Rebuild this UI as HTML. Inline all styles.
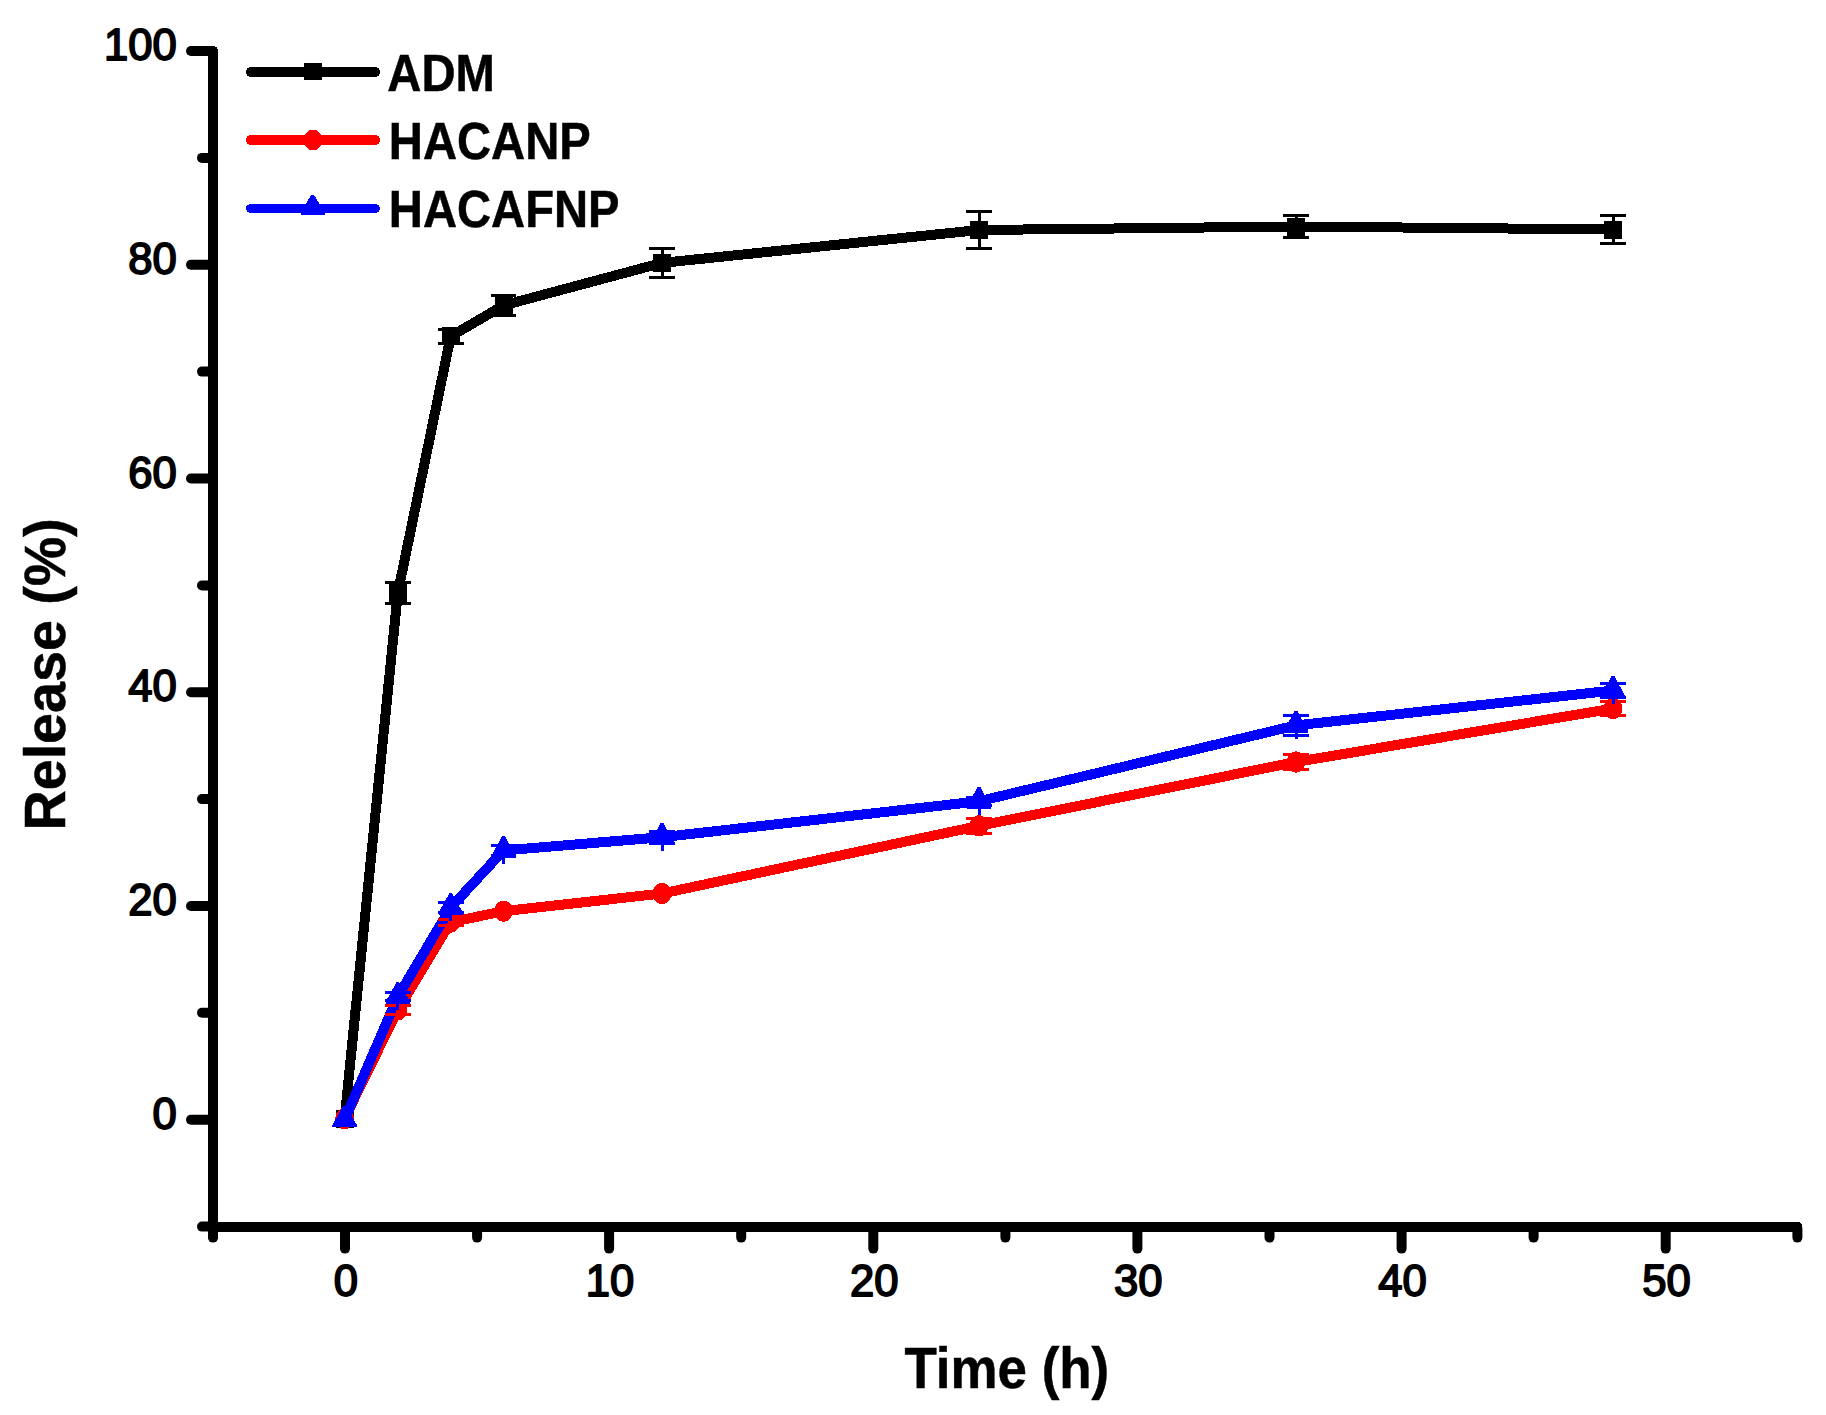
<!DOCTYPE html>
<html lang="en">
<head>
<meta charset="utf-8">
<title>Release (%) vs Time (h)</title>
<style>
html,body{margin:0;padding:0;background:#fff;}
body{width:1826px;height:1415px;overflow:hidden;}
svg{display:block;}
text{font-family:"Liberation Sans",Arial,Helvetica,sans-serif;fill:#000;}
.tick{font-size:43.6px;stroke:#000;stroke-width:1.8px;stroke-linejoin:round;}
.ttl{font-size:57.3px;font-weight:bold;stroke:#000;stroke-width:0.5px;}
.leg{font-size:51.6px;font-weight:bold;stroke:#000;stroke-width:0.5px;}
</style>
</head>
<body>
<svg width="1826" height="1415" viewBox="0 0 1826 1415">
<rect x="0" y="0" width="1826" height="1415" fill="#ffffff"/>

<g id="axes" stroke="#000" stroke-width="10" stroke-linecap="round" fill="none" shape-rendering="crispEdges">
<line x1="213.0" y1="51" x2="213.0" y2="1237.1"/>
<line x1="213.0" y1="1226.6" x2="1797.4" y2="1226.6"/>
</g>
<g id="ticks" stroke="#000" stroke-width="10" stroke-linecap="round" fill="none">
<line x1="211.0" y1="1226.6" x2="202.0" y2="1226.6"/>
<line x1="211.0" y1="1119.7" x2="191.0" y2="1119.7"/>
<line x1="211.0" y1="1012.8" x2="202.0" y2="1012.8"/>
<line x1="211.0" y1="906.0" x2="191.0" y2="906.0"/>
<line x1="211.0" y1="799.1" x2="202.0" y2="799.1"/>
<line x1="211.0" y1="692.2" x2="191.0" y2="692.2"/>
<line x1="211.0" y1="585.4" x2="202.0" y2="585.4"/>
<line x1="211.0" y1="478.5" x2="191.0" y2="478.5"/>
<line x1="211.0" y1="371.6" x2="202.0" y2="371.6"/>
<line x1="211.0" y1="264.7" x2="191.0" y2="264.7"/>
<line x1="211.0" y1="157.9" x2="202.0" y2="157.9"/>
<line x1="211.0" y1="51.0" x2="191.0" y2="51.0"/>
<line x1="213.0" y1="1228.6" x2="213.0" y2="1237.6"/>
<line x1="345.0" y1="1228.6" x2="345.0" y2="1248.6"/>
<line x1="477.1" y1="1228.6" x2="477.1" y2="1237.6"/>
<line x1="609.1" y1="1228.6" x2="609.1" y2="1248.6"/>
<line x1="741.2" y1="1228.6" x2="741.2" y2="1237.6"/>
<line x1="873.3" y1="1228.6" x2="873.3" y2="1248.6"/>
<line x1="1005.4" y1="1228.6" x2="1005.4" y2="1237.6"/>
<line x1="1137.4" y1="1228.6" x2="1137.4" y2="1248.6"/>
<line x1="1269.5" y1="1228.6" x2="1269.5" y2="1237.6"/>
<line x1="1401.6" y1="1228.6" x2="1401.6" y2="1248.6"/>
<line x1="1533.6" y1="1228.6" x2="1533.6" y2="1237.6"/>
<line x1="1665.7" y1="1228.6" x2="1665.7" y2="1248.6"/>
<line x1="1797.4" y1="1228.6" x2="1797.4" y2="1237.6"/>
</g>
<g id="ylabels" class="tick" text-anchor="end">
<text transform="translate(176.7,1128.9)">0</text>
<text transform="translate(176.7,915.2)">20</text>
<text transform="translate(176.7,701.4)">40</text>
<text transform="translate(176.7,487.7)">60</text>
<text transform="translate(176.7,273.9)">80</text>
<text transform="translate(176.7,60.2)">100</text>
</g>
<g id="xlabels" class="tick" text-anchor="middle">
<text transform="translate(345.9,1296.1)">0</text>
<text transform="translate(610.0,1296.1)">10</text>
<text transform="translate(874.2,1296.1)">20</text>
<text transform="translate(1138.3,1296.1)">30</text>
<text transform="translate(1402.5,1296.1)">40</text>
<text transform="translate(1666.6,1296.1)">50</text>
</g>
<text class="ttl" text-anchor="middle" transform="translate(1006.8,1388) scale(0.9235,1)">Time (h)</text>
<text class="ttl" text-anchor="middle" transform="translate(65,674.3) rotate(-90) scale(0.971,1)">Release (%)</text>
<g id="s-adm" shape-rendering="crispEdges">
<polyline points="344.6,1118.7 397.8,593.0 450.7,336.4 503.5,305.4 662.0,262.9 979.0,230.0 1296.0,226.5 1613.0,229.5" fill="none" stroke="#000" stroke-width="10" stroke-linejoin="round" stroke-linecap="round"/>
<rect x="335.6" y="1109.7" width="18" height="18" fill="#000"/>
<rect x="388.8" y="584.0" width="18" height="18" fill="#000"/>
<rect x="441.7" y="327.4" width="18" height="18" fill="#000"/>
<rect x="494.5" y="296.4" width="18" height="18" fill="#000"/>
<rect x="653.0" y="253.9" width="18" height="18" fill="#000"/>
<rect x="970.0" y="221.0" width="18" height="18" fill="#000"/>
<rect x="1287.0" y="217.5" width="18" height="18" fill="#000"/>
<rect x="1604.0" y="220.5" width="18" height="18" fill="#000"/>
</g>
<g id="s-hacanp" shape-rendering="crispEdges">
<polyline points="344.6,1118.6 397.8,1009.9 450.7,922.2 503.5,911.2 662.0,893.5 979.0,825.9 1296.0,762.0 1613.0,708.5" fill="none" stroke="#f00" stroke-width="10" stroke-linejoin="round" stroke-linecap="round"/>
<ellipse cx="344.6" cy="1118.6" rx="9.4" ry="10.7" fill="#f00"/>
<ellipse cx="397.8" cy="1009.9" rx="9.4" ry="10.7" fill="#f00"/>
<ellipse cx="450.7" cy="922.2" rx="9.4" ry="10.7" fill="#f00"/>
<ellipse cx="503.5" cy="911.2" rx="9.4" ry="10.7" fill="#f00"/>
<ellipse cx="662.0" cy="893.5" rx="9.4" ry="10.7" fill="#f00"/>
<ellipse cx="979.0" cy="825.9" rx="9.4" ry="10.7" fill="#f00"/>
<ellipse cx="1296.0" cy="762.0" rx="9.4" ry="10.7" fill="#f00"/>
<ellipse cx="1613.0" cy="708.5" rx="9.4" ry="10.7" fill="#f00"/>
</g>
<g id="s-hacafnp" shape-rendering="crispEdges">
<polyline points="344.6,1119.7 397.8,996.6 450.7,907.5 503.5,850.5 662.0,837.2 979.0,801.3 1296.0,725.4 1613.0,690.5" fill="none" stroke="#00f" stroke-width="10" stroke-linejoin="round" stroke-linecap="round"/>
<polygon points="343.2,1105.5 346.0,1105.5 356.8,1125.0 356.8,1127.0 332.4,1127.0 332.4,1125.0" fill="#00f"/>
<polygon points="396.4,982.4 399.2,982.4 410.0,1001.9 410.0,1003.9 385.6,1003.9 385.6,1001.9" fill="#00f"/>
<polygon points="449.3,893.3 452.1,893.3 462.9,912.8 462.9,914.8 438.5,914.8 438.5,912.8" fill="#00f"/>
<polygon points="502.1,836.3 504.9,836.3 515.7,855.8 515.7,857.8 491.3,857.8 491.3,855.8" fill="#00f"/>
<polygon points="660.6,823.0 663.4,823.0 674.2,842.5 674.2,844.5 649.8,844.5 649.8,842.5" fill="#00f"/>
<polygon points="977.6,787.1 980.4,787.1 991.2,806.6 991.2,808.6 966.8,808.6 966.8,806.6" fill="#00f"/>
<polygon points="1294.6,711.2 1297.4,711.2 1308.2,730.7 1308.2,732.7 1283.8,732.7 1283.8,730.7" fill="#00f"/>
<polygon points="1611.6,676.3 1614.4,676.3 1625.2,695.8 1625.2,697.8 1600.8,697.8 1600.8,695.8" fill="#00f"/>
</g>
<g stroke="#000" stroke-width="3" fill="none" shape-rendering="crispEdges">
<line x1="397.8" y1="582.2" x2="397.8" y2="603.8"/>
<line x1="385.2" y1="582.2" x2="410.6" y2="582.2"/>
<line x1="385.2" y1="603.8" x2="410.6" y2="603.8"/>
<line x1="450.7" y1="329.1" x2="450.7" y2="343.6"/>
<line x1="438.1" y1="329.1" x2="463.5" y2="329.1"/>
<line x1="438.1" y1="343.6" x2="463.5" y2="343.6"/>
<line x1="503.5" y1="295.8" x2="503.5" y2="315.0"/>
<line x1="490.9" y1="295.8" x2="516.3" y2="295.8"/>
<line x1="490.9" y1="315.0" x2="516.3" y2="315.0"/>
<line x1="662.0" y1="248.5" x2="662.0" y2="277.2"/>
<line x1="649.4" y1="248.5" x2="674.8" y2="248.5"/>
<line x1="649.4" y1="277.2" x2="674.8" y2="277.2"/>
<line x1="979.0" y1="211.5" x2="979.0" y2="248.5"/>
<line x1="966.4" y1="211.5" x2="991.8" y2="211.5"/>
<line x1="966.4" y1="248.5" x2="991.8" y2="248.5"/>
<line x1="1296.0" y1="215.3" x2="1296.0" y2="237.7"/>
<line x1="1283.4" y1="215.3" x2="1308.8" y2="215.3"/>
<line x1="1283.4" y1="237.7" x2="1308.8" y2="237.7"/>
<line x1="1613.0" y1="215.3" x2="1613.0" y2="243.7"/>
<line x1="1600.4" y1="215.3" x2="1625.8" y2="215.3"/>
<line x1="1600.4" y1="243.7" x2="1625.8" y2="243.7"/>
</g>
<g stroke="#f00" stroke-width="3" fill="none" shape-rendering="crispEdges">
<line x1="397.8" y1="1005.5" x2="397.8" y2="1014.2"/>
<line x1="385.2" y1="1005.5" x2="410.6" y2="1005.5"/>
<line x1="385.2" y1="1014.2" x2="410.6" y2="1014.2"/>
<line x1="450.7" y1="919.1" x2="450.7" y2="925.3"/>
<line x1="438.1" y1="919.1" x2="463.5" y2="919.1"/>
<line x1="438.1" y1="925.3" x2="463.5" y2="925.3"/>
<line x1="979.0" y1="818.6" x2="979.0" y2="833.2"/>
<line x1="966.4" y1="818.6" x2="991.8" y2="818.6"/>
<line x1="966.4" y1="833.2" x2="991.8" y2="833.2"/>
<line x1="1296.0" y1="754.5" x2="1296.0" y2="769.5"/>
<line x1="1283.4" y1="754.5" x2="1308.8" y2="754.5"/>
<line x1="1283.4" y1="769.5" x2="1308.8" y2="769.5"/>
<line x1="1613.0" y1="701.5" x2="1613.0" y2="715.5"/>
<line x1="1600.4" y1="701.5" x2="1625.8" y2="701.5"/>
<line x1="1600.4" y1="715.5" x2="1625.8" y2="715.5"/>
</g>
<g stroke="#00f" stroke-width="3" fill="none" shape-rendering="crispEdges">
<line x1="397.8" y1="988.6" x2="397.8" y2="1010.1"/>
<line x1="385.2" y1="992.8" x2="410.6" y2="992.8"/>
<line x1="385.2" y1="1000.4" x2="410.6" y2="1000.4"/>
<line x1="450.7" y1="899.5" x2="450.7" y2="921.0"/>
<line x1="438.1" y1="902.7" x2="463.5" y2="902.7"/>
<line x1="438.1" y1="912.3" x2="463.5" y2="912.3"/>
<line x1="503.5" y1="842.5" x2="503.5" y2="864.0"/>
<line x1="490.9" y1="845.2" x2="516.3" y2="845.2"/>
<line x1="490.9" y1="855.8" x2="516.3" y2="855.8"/>
<line x1="662.0" y1="829.2" x2="662.0" y2="850.7"/>
<line x1="649.4" y1="831.0" x2="674.8" y2="831.0"/>
<line x1="649.4" y1="843.4" x2="674.8" y2="843.4"/>
<line x1="979.0" y1="793.3" x2="979.0" y2="814.8"/>
<line x1="966.4" y1="797.3" x2="991.8" y2="797.3"/>
<line x1="966.4" y1="805.3" x2="991.8" y2="805.3"/>
<line x1="1296.0" y1="717.4" x2="1296.0" y2="738.9"/>
<line x1="1283.4" y1="715.4" x2="1308.8" y2="715.4"/>
<line x1="1283.4" y1="735.4" x2="1308.8" y2="735.4"/>
<line x1="1613.0" y1="682.5" x2="1613.0" y2="704.0"/>
<line x1="1600.4" y1="683.5" x2="1625.8" y2="683.5"/>
<line x1="1600.4" y1="697.5" x2="1625.8" y2="697.5"/>
</g>
<g id="legend" shape-rendering="crispEdges">
<line x1="251.0" y1="72" x2="375.0" y2="72" stroke="#000" stroke-width="10" stroke-linecap="round"/>
<line x1="251.0" y1="140" x2="375.0" y2="140" stroke="#f00" stroke-width="10" stroke-linecap="round"/>
<line x1="250.5" y1="208.5" x2="375.5" y2="208.5" stroke="#00f" stroke-width="9" stroke-linecap="round"/>
<rect x="304" y="63" width="18" height="17" fill="#000"/>
<ellipse cx="313" cy="140" rx="9.4" ry="10.4" fill="#f00"/>
<polygon points="311,195 314,195 325,213 325,215 301,215 301,213" fill="#00f"/>
</g>
<g class="leg">
<text transform="translate(387.3,91) scale(0.915,1)">ADM</text>
<text transform="translate(388.8,159) scale(0.915,1)">HACANP</text>
<text transform="translate(388.8,227) scale(0.915,1)">HACAFNP</text>
</g>
</svg>
</body>
</html>
